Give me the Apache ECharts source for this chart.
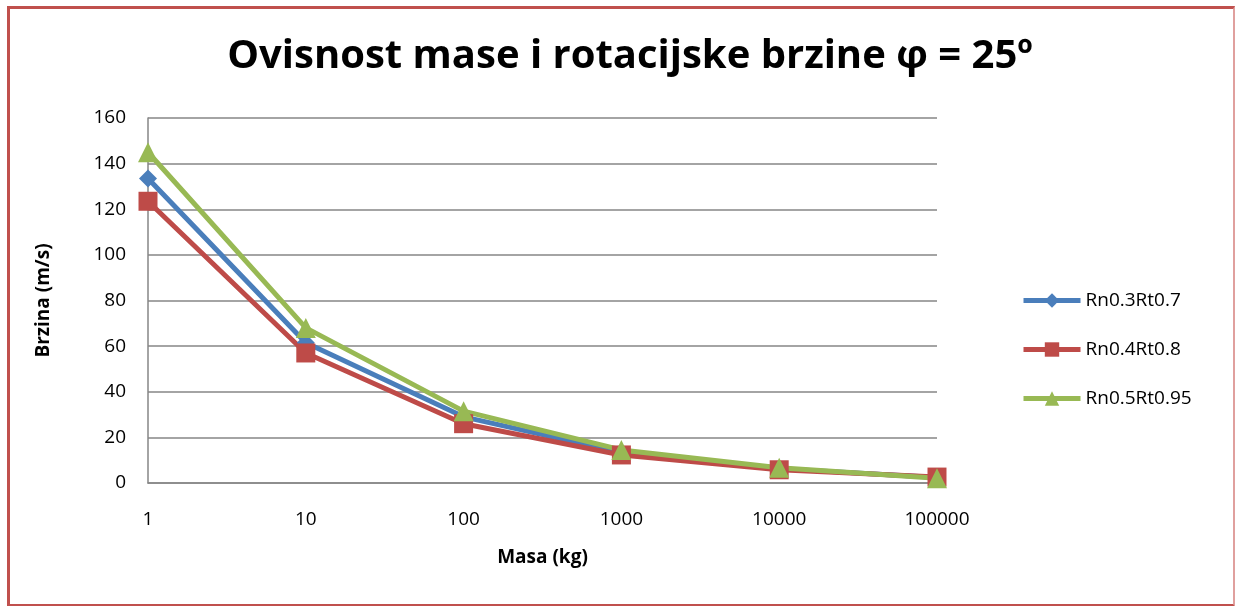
<!DOCTYPE html>
<html>
<head>
<meta charset="utf-8">
<script src="https://cdn.jsdelivr.net/npm/echarts@6/dist/echarts.min.js"></script>
<style>
  html, body { margin: 0; padding: 0; background: #fff; }
  #frame {
    position: absolute; left: 7px; top: 6px; width: 1223px; height: 595px;
    border-left: 3px solid #c0504d; border-top: 3px solid #c0504d;
    border-bottom: 3px solid #c0504d; border-right: 2px solid #e0a09e;
  }
  #chart { position: absolute; left: 0; top: 0; width: 1235px; height: 606px; }
</style>
</head>
<body>
<div id="frame"></div>
<div id="chart"></div>
<script>
// mase (kg)
const categories = ['1', '10', '100', '1000', '10000', '100000'];
// brzina (m/s)
const rn03rt07 = [133.5, 61.5, 29, 13.5, 6.3, 2.4];
const rn04rt08 = [123.5, 57, 26, 12.3, 5.8, 2.6];
const rn05rt095 = [145, 68, 31.5, 14.5, 6.7, 2.1];

const font = 'Open Sans, sans-serif';

const chart = echarts.init(document.getElementById('chart'));

function line(name, data, color, symbol, size) {
    return {
        name: name,
        type: 'line',
        data: data,
        symbol: symbol,
        symbolSize: size,
        lineStyle: { width: 5, color: color },
        itemStyle: { color: color },
        emphasis: { disabled: true }
    };
}

const option = {
    animation: false,
    title: {
        text: 'Ovisnost mase i rotacijske brzine φ = 25º',
        left: 625, top: 32, textAlign: 'center',
        textStyle: { fontFamily: font, fontSize: 40, fontWeight: 'bold', color: '#000' }
    },
    legend: {
        orient: 'vertical',
        left: 1016, top: 286,
        itemWidth: 57, itemHeight: 18,
        itemGap: 30,
        lineStyle: { width: 5 },
        textStyle: { fontFamily: font, fontSize: 19, color: '#000' },
        data: ['Rn0.3Rt0.7', 'Rn0.4Rt0.8', 'Rn0.5Rt0.95']
    },
    grid: { left: 148, right: 298, top: 118, bottom: 123 },
    xAxis: {
        type: 'category',
        data: categories,
        boundaryGap: false,
        name: 'Masa (kg)',
        nameLocation: 'middle',
        nameGap: 65,
        nameTextStyle: { fontFamily: font, fontSize: 19, fontWeight: 'bold', color: '#000' },
        axisLine: { lineStyle: { color: '#868686', width: 1.5 } },
        axisTick: { show: false },
        axisLabel: { fontFamily: font, fontSize: 19, color: '#000', margin: 27 }
    },
    yAxis: {
        type: 'value',
        min: 0, max: 160, interval: 20,
        name: 'Brzina (m/s)',
        nameLocation: 'middle',
        nameGap: 95,
        nameTextStyle: { fontFamily: font, fontSize: 19, fontWeight: 'bold', color: '#000' },
        axisLine: { show: true, lineStyle: { color: '#868686', width: 1.5 } },
        axisTick: { show: false },
        axisLabel: { fontFamily: font, fontSize: 19, color: '#000', margin: 22 },
        splitLine: { lineStyle: { color: '#868686', width: 1.5 } }
    },
    series: [
        line('Rn0.3Rt0.7', rn03rt07, '#4a7ebb', 'diamond', 18),
        line('Rn0.4Rt0.8', rn04rt08, '#be4b48', 'rect', 19),
        line('Rn0.5Rt0.95', rn05rt095, '#98b954', 'triangle', 20)
    ]
};

chart.setOption(option);
</script>
</body>
</html>
